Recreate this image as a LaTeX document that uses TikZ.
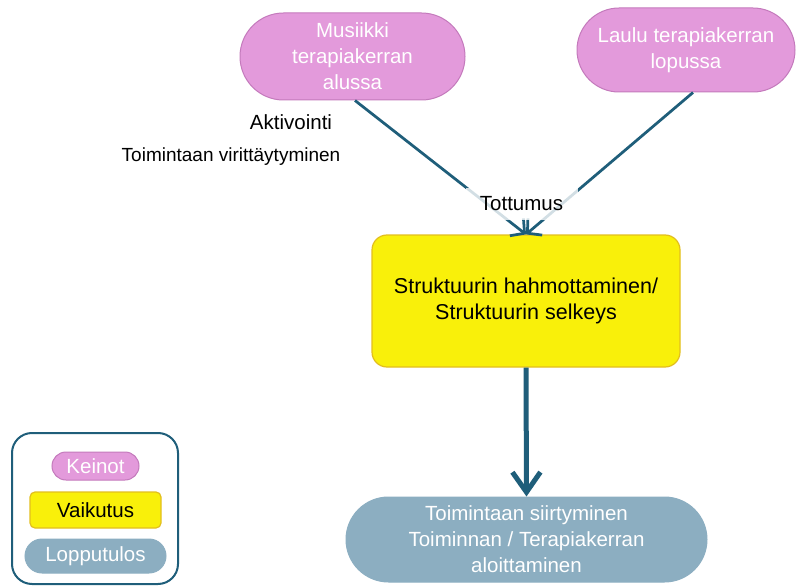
\documentclass[tikz,border=0pt]{standalone}
\usepackage{fontspec}
\setmainfont{Liberation Sans}
\usetikzlibrary{shapes.misc,arrows.meta}
\definecolor{keinofill}{RGB}{227,154,219}
\definecolor{keinoline}{RGB}{196,122,188}
\definecolor{vaikfill}{RGB}{249,240,10}
\definecolor{vaikline}{RGB}{226,190,30}
\definecolor{loppufill}{RGB}{140,174,193}
\definecolor{arrowteal}{RGB}{31,94,122}
\begin{document}
\begin{tikzpicture}[x=1pt,y=-1pt,
  every node/.style={font=\fontsize{20.5}{26}\selectfont},
  keino/.style={rounded rectangle, fill=keinofill, draw=keinoline, line width=1pt,
    text=white, align=center, inner sep=0pt},
  vaikutus/.style={rectangle, rounded corners=15pt, fill=vaikfill, draw=vaikline,
    line width=1.2pt, align=center, inner sep=0pt},
  loppu/.style={rounded rectangle, fill=loppufill, draw=loppufill, line width=1pt,
    text=white, align=center, inner sep=0pt},
  plain/.style={align=center, inner sep=0pt},
  link/.style={draw=arrowteal, line width=2.75pt, -{Straight Barb[length=10pt,width=22pt]}},
  mainlink/.style={draw=arrowteal, line width=5pt, -{Straight Barb[length=20pt,width=28pt]}}
]
\useasboundingbox (0,0) rectangle (796,586);

% means
\node[keino, minimum width=225pt, minimum height=87pt] (musiikki) at (352.5,56.5)
  {Musiikki\\terapiakerran\\alussa};
\node[keino, minimum width=218pt, minimum height=84pt] (laulu) at (686,50)
  {Laulu terapiakerran\\lopussa};

% effect
\node[vaikutus, minimum width=308pt, minimum height=132pt,
  font=\fontsize{21.5}{26}\selectfont] (rakenne) at (526,301)
  {Struktuurin hahmottaminen/\\Struktuurin selkeys};

% outcome
\node[loppu, minimum width=361pt, minimum height=85pt] (tulos) at (526.5,539.5)
  {Toimintaan siirtyminen\\Toiminnan / Terapiakerran\\aloittaminen};

% connectors
\draw[link] ([xshift=2.5pt]musiikki.south) -- (rakenne.north);
\draw[link] ([xshift=7pt]laulu.south) -- (rakenne.north);
\draw[mainlink] (rakenne.south) -- (tulos.north);

% labels
\node[plain] (aktiv) at (291,122) {Aktivointi};
\node[plain, font=\fontsize{19}{24}\selectfont] (viritt) at (231,157) {Toimintaan virittäytyminen};
\node[plain, fill=white, fill opacity=0.8, text opacity=1,
  minimum width=112pt, minimum height=32pt] (tottumus) at (521.5,204) {Tottumus};

% legend
\node[draw=arrowteal, line width=2pt, rounded corners=20pt,
  minimum width=166pt, minimum height=151pt, inner sep=0pt] (selite) at (95,508.5) {};
\node[keino, minimum width=87pt, minimum height=28pt] (lkeino) at (95.5,466) {Keinot};
\node[vaikutus, rounded corners=5pt, minimum width=131pt, minimum height=36pt] (lvaik) at (95.5,510) {Vaikutus};
\node[loppu, minimum width=141pt, minimum height=34pt] (lloppu) at (95.5,556) {Lopputulos};
\end{tikzpicture}
\end{document}
